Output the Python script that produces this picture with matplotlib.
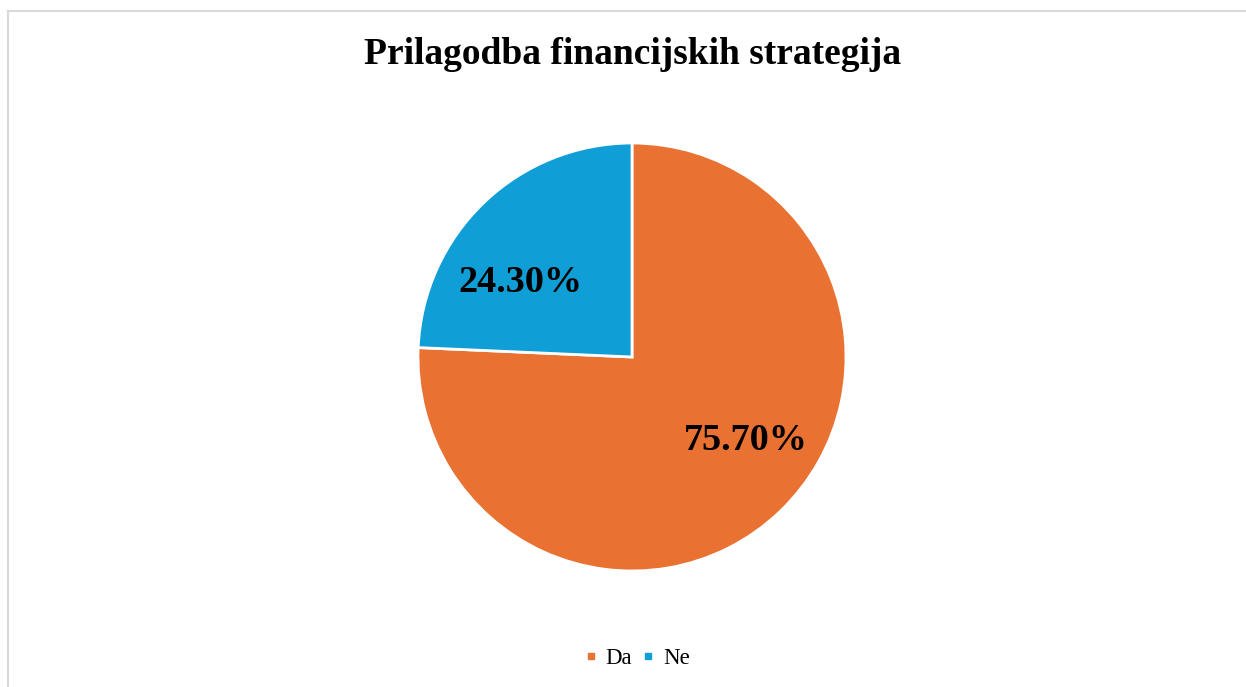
import matplotlib.pyplot as plt
from matplotlib.patches import Rectangle
from matplotlib.lines import Line2D

labels = ["Da", "Ne"]
shares = [75.70, 24.30]
colors = ["#E97132", "#0F9ED5"]

plt.rcParams["font.family"] = ["Liberation Serif", "DejaVu Serif"]

W, H = 1246, 687
fig = plt.figure(figsize=(W / 100, H / 100), dpi=100)

# light grey chart border (left and top visible, rest runs off the image)
fig.patches.append(Rectangle((8 / W, -0.05), 1.1, 1 - 11 / H + 0.05,
                             transform=fig.transFigure, fill=False,
                             edgecolor="#d9d9d9", linewidth=1.5))

# pie area: center (632, 357), radius ~214 px
r = 214
ax = fig.add_axes([(632 - r) / W, (H - 357 - r) / H, 2 * r / W, 2 * r / H])
wedges, _ = ax.pie(shares, colors=colors, startangle=90, counterclock=False,
                   radius=1, wedgeprops=dict(edgecolor="white", linewidth=2))
ax.set_xlim(-1, 1)
ax.set_ylim(-1, 1)
ax.set_aspect("equal")
ax.axis("off")

# data labels, placed like the original
label_pos = [(0.53, -0.39), (-0.521, 0.346)]
for (x, y), v in zip(label_pos, shares):
    ax.text(x, y, f"{v:.2f}%", ha="center", va="center",
            fontsize=27.5, fontweight="bold", color="black")

fig.text(633 / W, 1 - 55 / H, "Prilagodba financijskih strategija",
         ha="center", va="center", fontsize=27, fontweight="bold")

handles = [Line2D([], [], linestyle="none", marker="s", markersize=5,
                  markerfacecolor=c, markeredgecolor=c) for c in colors]
fig.legend(handles, labels, loc="center", bbox_to_anchor=(638 / W, 1 - 658 / H),
           ncol=2, frameon=False, fontsize=16.5, handlelength=0.4,
           handletextpad=0.45, columnspacing=0.5)

fig.savefig("out.png", dpi=100)
